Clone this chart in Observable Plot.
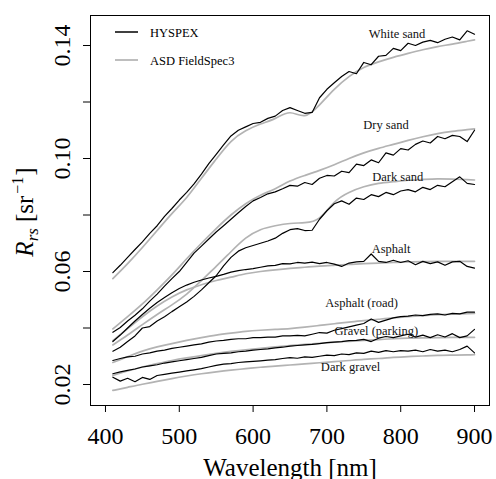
<!DOCTYPE html>
<html><head><meta charset="utf-8">
<script src="https://cdn.jsdelivr.net/npm/d3@7"></script>
<script src="https://cdn.jsdelivr.net/npm/@observablehq/plot@0.6"></script>
<style>
html,body{margin:0;padding:0;background:#fff}
svg{display:block}
svg, svg text, svg tspan { font-family: "Liberation Serif", "DejaVu Serif", serif !important; }
</style>
</head><body><div id="chart"></div>
<script>
// Wavelength grids (nm)
const hyWl = [410,420,430,440,450,460,470,480,490,500,510,520,530,540,550,560,570,580,590,600,610,620,630,640,650,660,670,680,690,700,710,720,730,740,750,760,770,780,790,800,810,820,830,840,850,860,870,880,890,900];
const asdWl = [410,430,450,470,490,510,530,550,570,590,610,630,650,670,690,710,730,750,770,790,810,830,850,870,890,900];

const surfaces = ["White sand","Dry sand","Dark sand","Asphalt","Asphalt (road)","Gravel (parking)","Dark gravel"];

// HYSPEX (Rrs, sr^-1)
const whiteSandHy = [.0596,.0622,.0650,.0678,.0705,.0735,.0762,.0795,.0823,.0853,.0880,.0910,.0945,.0982,.1015,.1048,.1080,.1100,.1112,.1124,.1128,.1142,.1150,.1170,.1180,.1170,.1160,.1163,.1215,.1245,.1268,.1290,.1308,.1300,.1340,.1332,.1362,.1365,.1390,.1382,.1408,.1400,.1412,.1418,.1410,.1422,.1430,.1420,.1452,.1440];
const drySandHy = [.0385,.0402,.0425,.0445,.0468,.0495,.0520,.0548,.0575,.0600,.0632,.0665,.0690,.0715,.0740,.0762,.0785,.0808,.0830,.0850,.0862,.0875,.0882,.0893,.0905,.0902,.0915,.0908,.0930,.0940,.0938,.0955,.0950,.0980,.0975,.0995,.0985,.1020,.1012,.1035,.1030,.1050,.1062,.1055,.1078,.1070,.1082,.1078,.1060,.1100];
const darkSandHy = [.0318,.0332,.0352,.0372,.0400,.0405,.0425,.0440,.0458,.0475,.0492,.0512,.0535,.0560,.0585,.0620,.0650,.0672,.0684,.0692,.0700,.0708,.0718,.0735,.0748,.0752,.0745,.0746,.0785,.0815,.0840,.0850,.0838,.0860,.0855,.0872,.0865,.0880,.0872,.0885,.0890,.0882,.0898,.0890,.0905,.0900,.0918,.0935,.0912,.0908];
const asphaltHy = [.0352,.0375,.0400,.0425,.0448,.0470,.0490,.0508,.0525,.0540,.0552,.0562,.0570,.0577,.0583,.0590,.0598,.0603,.0607,.0610,.0615,.0620,.0622,.0628,.0627,.0632,.0630,.0633,.0628,.0632,.0626,.0618,.0630,.0634,.0636,.0662,.0636,.0632,.0640,.0632,.0638,.0624,.0636,.0628,.0634,.0622,.0634,.0636,.0618,.0612];
const asphaltRoadHy = [.0285,.0292,.0298,.0300,.0308,.0312,.0318,.0322,.0328,.0332,.0336,.0340,.0344,.0350,.0354,.0356,.0360,.0362,.0362,.0366,.0366,.0368,.0368,.0372,.0372,.0374,.0372,.0378,.0384,.0382,.0392,.0398,.0404,.0410,.0416,.0432,.0420,.0428,.0436,.0440,.0442,.0446,.0444,.0448,.0450,.0446,.0452,.0450,.0456,.0456];
const gravelParkingHy = [.0238,.0245,.0250,.0255,.0262,.0266,.0270,.0276,.0280,.0284,.0288,.0292,.0296,.0302,.0308,.0310,.0312,.0316,.0318,.0322,.0324,.0326,.0330,.0332,.0336,.0338,.0340,.0342,.0345,.0348,.0350,.0352,.0355,.0356,.0360,.0352,.0364,.0370,.0366,.0372,.0378,.0368,.0375,.0366,.0376,.0368,.0380,.0366,.0372,.0395];
const darkGravelHy = [.0226,.0212,.0222,.0210,.0225,.0218,.0232,.0236,.0240,.0244,.0248,.0252,.0256,.0262,.0268,.0272,.0274,.0278,.0280,.0282,.0284,.0286,.0288,.0292,.0295,.0293,.0298,.0296,.0300,.0304,.0302,.0308,.0306,.0312,.0310,.0318,.0314,.0320,.0316,.0320,.0318,.0322,.0316,.0324,.0318,.0322,.0316,.0324,.0336,.0312];

// ASD FieldSpec3 (Rrs, sr^-1)
const whiteSandAsd = [.0575,.0628,.0685,.0745,.0805,.0862,.0930,.0998,.1060,.1098,.1122,.1142,.1162,.1152,.1190,.1245,.1290,.1322,.1342,.1358,.1372,.1385,.1396,.1405,.1415,.1420];
const drySandAsd = [.0397,.0440,.0485,.0535,.0588,.0645,.0700,.0752,.0800,.0840,.0870,.0893,.0920,.0940,.0958,.0978,.1000,.1020,.1036,.1050,.1064,.1077,.1088,.1096,.1102,.1105];
const darkSandAsd = [.0340,.0375,.0412,.0448,.0482,.0520,.0568,.0618,.0670,.0718,.0748,.0762,.0770,.0773,.0790,.0845,.0880,.0900,.0912,.0918,.0923,.0926,.0928,.0927,.0925,.0924];
const asphaltAsd = [.0355,.0398,.0440,.0478,.0510,.0535,.0553,.0568,.0580,.0592,.0600,.0606,.0611,.0615,.0619,.0622,.0625,.0628,.0630,.0632,.0634,.0635,.0636,.0636,.0636,.0636];
const asphaltRoadAsd = [.0278,.0298,.0318,.0333,.0345,.0356,.0366,.0375,.0382,.0388,.0392,.0395,.0398,.0403,.0409,.0415,.0421,.0426,.0431,.0436,.0440,.0444,.0447,.0449,.0451,.0452];
const gravelParkingAsd = [.0232,.0248,.0262,.0274,.0285,.0294,.0302,.0310,.0317,.0323,.0328,.0333,.0338,.0342,.0346,.0350,.0353,.0356,.0359,.0362,.0364,.0365,.0366,.0367,.0367,.0367];
const darkGravelAsd = [.0179,.0190,.0201,.0211,.0221,.0230,.0238,.0245,.0251,.0256,.0261,.0265,.0269,.0273,.0277,.0281,.0285,.0289,.0292,.0296,.0299,.0301,.0303,.0304,.0305,.0306];

// curve label anchors (wavelength, Rrs)
const labelWl = [795, 780, 796, 787, 747, 767, 732];
const labelR = [.1441, .1120, .0936, .0678, .0487, .0388, .0262];

const xTicks = [400,500,600,700,800,900];
const yTicks = [0.02,0.04,0.06,0.08,0.10,0.12,0.14];
const yLabelTicks = [0.02,0.06,0.10,0.14];
const legendNames = ["HYSPEX","ASD FieldSpec3"];

const hyArrays = [whiteSandHy,drySandHy,darkSandHy,asphaltHy,asphaltRoadHy,gravelParkingHy,darkGravelHy];
const asdArrays = [whiteSandAsd,drySandAsd,darkSandAsd,asphaltAsd,asphaltRoadAsd,gravelParkingAsd,darkGravelAsd];
const hyRows = hyArrays.flatMap((a,i)=>a.map((r,j)=>({surface:surfaces[i], wl:hyWl[j], r})));
const asdRows = asdArrays.flatMap((a,i)=>a.map((r,j)=>({surface:surfaces[i], wl:asdWl[j], r})));
const labels = surfaces.map((s,i)=>({s, wl:labelWl[i], r:labelR[i]}));

const FONT = '"Liberation Serif", "DejaVu Serif", serif';
const plot = Plot.plot({
  width: 496, height: 479,
  marginLeft: 90, marginRight: 7, marginTop: 15, marginBottom: 74,
  x: {domain: [379.7, 920.3]},
  y: {domain: [0.01257, 0.15062]},
  style: {fontFamily: FONT, background: "#fff", color: "#000"},
  marks: [
    Plot.line(asdRows, {x:"wl", y:"r", z:"surface", stroke:"#b3b3b3", strokeWidth:1.7, curve:"natural"}),
    Plot.line(hyRows, {x:"wl", y:"r", z:"surface", stroke:"#000", strokeWidth:1.2}),
    Plot.frame({stroke:"#000", strokeWidth:1}),
    Plot.axisX({ticks: xTicks, tickSize: 7, tickFormat: () => "", label: null}),
    Plot.axisY({ticks: yTicks, tickSize: 7, tickFormat: () => "", label: null}),
    Plot.text(xTicks, {x: d=>d, frameAnchor:"bottom", dy: 31, text: d=>String(d), fontSize: 24, lineAnchor:"middle"}),
    Plot.text(yLabelTicks, {y: d=>d, frameAnchor:"left", dx: -28, rotate: -90, text: d=>d3.format(".2f")(d), fontSize: 24, textAnchor:"middle", lineAnchor:"middle"}),
    Plot.text(["Wavelength [nm]"], {frameAnchor:"bottom", dy: 62, fontSize: 25, lineAnchor:"middle"}),
    Plot.text(labels, {x:"wl", y:"r", text:"s", fontSize: 12.5, lineAnchor:"middle", fill:"#111"})
  ]
});
document.getElementById("chart").appendChild(plot);

const svg = d3.select(plot);
// y axis title: R_rs [sr^-1]
const t = svg.append("text")
  .attr("transform","translate(33,212) rotate(-90)")
  .attr("text-anchor","middle")
  .attr("font-size", 25).attr("fill","#000");
t.append("tspan").attr("font-style","italic").text("R");
t.append("tspan").attr("font-style","italic").attr("font-size",17).attr("dy",5).text("rs");
t.append("tspan").attr("dy",-5).attr("dx",6).text("[sr");
t.append("tspan").attr("font-size",16).attr("dy",-10).attr("dx",2).text("\u22121");
t.append("tspan").attr("dy",10).attr("dx",1).text("]");

// legend
const lg = svg.append("g").attr("font-size", 12.5).attr("fill","#000").attr("text-anchor","start");
[["#000",1.5,32],["#b3b3b3",1.7,60]].forEach(([c,w,y],i)=>{
  lg.append("line").attr("x1",115).attr("x2",138).attr("y1",y).attr("y2",y).attr("stroke",c).attr("stroke-width",w);
  lg.append("text").attr("x",150).attr("y",y+4.5).text(legendNames[i]);
});
</script></body></html>
